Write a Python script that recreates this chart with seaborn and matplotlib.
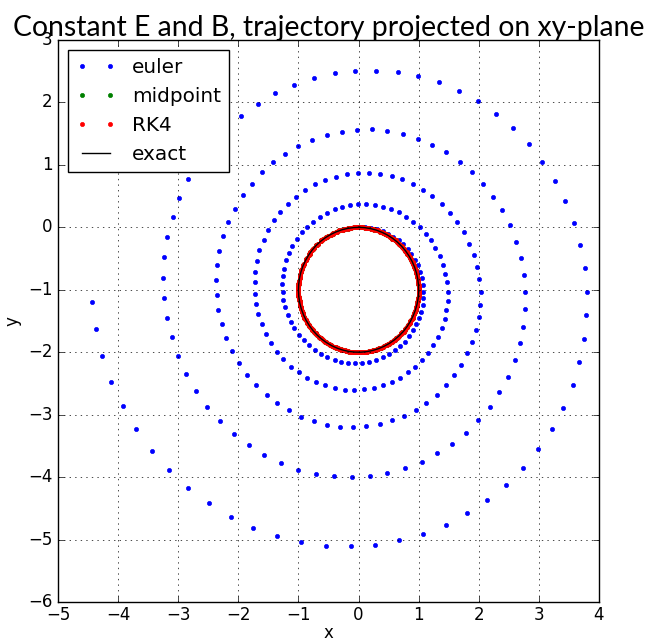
import matplotlib
matplotlib.use("Agg")
import matplotlib.pyplot as plt
import seaborn as sns

plt.style.use("classic")

# Euler steps (h = 0.1) of the charged particle, projected on the xy-plane
euler_x = [
    0.00, 0.10, 0.20, 0.30, 0.40, 0.49, 0.58, 0.67, 0.74, 0.82,
    0.88, 0.94, 0.99, 1.03, 1.06, 1.07, 1.08, 1.08, 1.07, 1.04,
    1.01, 0.96, 0.91, 0.84, 0.77, 0.69, 0.60, 0.50, 0.40, 0.29,
    0.18, 0.06, -0.06, -0.17, -0.29, -0.40, -0.52, -0.62, -0.73, -0.82,
    -0.91, -0.99, -1.07, -1.13, -1.18, -1.22, -1.25, -1.26, -1.27, -1.26,
    -1.24, -1.20, -1.15, -1.10, -1.03, -0.94, -0.85, -0.75, -0.64, -0.53,
    -0.40, -0.27, -0.14, -0.01, 0.13, 0.27, 0.40, 0.54, 0.67, 0.79,
    0.91, 1.02, 1.12, 1.20, 1.28, 1.35, 1.40, 1.44, 1.47, 1.48,
    1.48, 1.46, 1.43, 1.38, 1.32, 1.24, 1.16, 1.06, 0.94, 0.82,
    0.69, 0.55, 0.40, 0.25, 0.09, -0.07, -0.23, -0.39, -0.55, -0.70,
    -0.85, -0.99, -1.12, -1.25, -1.36, -1.46, -1.54, -1.61, -1.67, -1.71,
    -1.73, -1.73, -1.72, -1.69, -1.65, -1.58, -1.50, -1.41, -1.30, -1.17,
    -1.04, -0.89, -0.73, -0.56, -0.38, -0.20, -0.01, 0.17, 0.36, 0.55,
    0.73, 0.90, 1.07, 1.23, 1.38, 1.52, 1.64, 1.75, 1.84, 1.92,
    1.97, 2.01, 2.03, 2.02, 2.00, 1.96, 1.89, 1.81, 1.71, 1.59,
    1.45, 1.30, 1.13, 0.95, 0.76, 0.55, 0.35, 0.13, -0.09, -0.31,
    -0.53, -0.74, -0.95, -1.15, -1.35, -1.53, -1.70, -1.85, -1.99, -2.10,
    -2.20, -2.28, -2.33, -2.36, -2.37, -2.36, -2.32, -2.26, -2.17, -2.06,
    -1.93, -1.78, -1.61, -1.42, -1.22, -1.00, -0.77, -0.53, -0.28, -0.03,
    0.23, 0.48, 0.74, 0.99, 1.23, 1.46, 1.68, 1.89, 2.07, 2.24,
    2.39, 2.52, 2.62, 2.70, 2.75, 2.77, 2.77, 2.74, 2.68, 2.60,
    2.48, 2.34, 2.18, 1.99, 1.78, 1.55, 1.31, 1.05, 0.77, 0.48,
    0.19, -0.11, -0.41, -0.71, -1.00, -1.29, -1.57, -1.83, -2.08, -2.31,
    -2.52, -2.71, -2.87, -3.01, -3.11, -3.19, -3.24, -3.25, -3.23, -3.18,
    -3.09, -2.98, -2.83, -2.65, -2.45, -2.22, -1.96, -1.68, -1.39, -1.07,
    -0.74, -0.40, -0.06, 0.29, 0.65, 0.99, 1.34, 1.67, 1.99, 2.29,
    2.57, 2.83, 3.06, 3.27, 3.44, 3.58, 3.69, 3.76, 3.80, 3.79,
    3.75, 3.67, 3.56, 3.40, 3.22, 2.99, 2.74, 2.45, 2.14, 1.80,
    1.45, 1.07, 0.68, 0.28, -0.13, -0.54, -0.95, -1.36, -1.75, -2.13,
    -2.49, -2.84, -3.15, -3.44, -3.70, -3.92, -4.11, -4.26, -4.36, -4.43,
]
euler_y = [
    0.00, 0.00, -0.01, -0.03, -0.06, -0.10, -0.15, -0.21, -0.27, -0.35,
    -0.43, -0.52, -0.61, -0.71, -0.81, -0.92, -1.03, -1.13, -1.24, -1.35,
    -1.45, -1.55, -1.65, -1.74, -1.83, -1.90, -1.97, -2.03, -2.08, -2.12,
    -2.15, -2.17, -2.17, -2.17, -2.15, -2.12, -2.08, -2.03, -1.96, -1.89,
    -1.81, -1.72, -1.62, -1.51, -1.40, -1.28, -1.16, -1.04, -0.91, -0.78,
    -0.66, -0.53, -0.41, -0.30, -0.19, -0.08, 0.01, 0.09, 0.17, 0.23,
    0.29, 0.33, 0.35, 0.37, 0.37, 0.36, 0.33, 0.29, 0.24, 0.17,
    0.09, 0.00, -0.10, -0.21, -0.33, -0.46, -0.60, -0.74, -0.88, -1.03,
    -1.18, -1.33, -1.47, -1.61, -1.75, -1.88, -2.01, -2.13, -2.23, -2.32,
    -2.41, -2.48, -2.53, -2.57, -2.59, -2.60, -2.60, -2.57, -2.53, -2.48,
    -2.41, -2.32, -2.23, -2.11, -1.99, -1.85, -1.71, -1.55, -1.39, -1.23,
    -1.06, -0.88, -0.71, -0.54, -0.37, -0.20, -0.04, 0.11, 0.25, 0.38,
    0.49, 0.60, 0.69, 0.76, 0.81, 0.85, 0.87, 0.87, 0.86, 0.82,
    0.77, 0.69, 0.60, 0.50, 0.37, 0.23, 0.08, -0.08, -0.26, -0.44,
    -0.63, -0.83, -1.03, -1.24, -1.44, -1.64, -1.83, -2.02, -2.20, -2.37,
    -2.53, -2.68, -2.81, -2.92, -3.02, -3.09, -3.15, -3.18, -3.19, -3.19,
    -3.16, -3.10, -3.03, -2.93, -2.82, -2.68, -2.53, -2.36, -2.18, -1.98,
    -1.77, -1.55, -1.32, -1.08, -0.85, -0.61, -0.38, -0.14, 0.08, 0.30,
    0.51, 0.70, 0.88, 1.04, 1.18, 1.30, 1.40, 1.48, 1.53, 1.56,
    1.57, 1.54, 1.49, 1.42, 1.32, 1.20, 1.05, 0.89, 0.70, 0.49,
    0.27, 0.03, -0.23, -0.49, -0.76, -1.03, -1.31, -1.59, -1.86, -2.13,
    -2.39, -2.64, -2.87, -3.09, -3.29, -3.47, -3.62, -3.75, -3.86, -3.94,
    -3.98, -4.00, -3.99, -3.95, -3.88, -3.78, -3.65, -3.49, -3.31, -3.10,
    -2.87, -2.62, -2.35, -2.06, -1.76, -1.45, -1.13, -0.81, -0.48, -0.16,
    0.16, 0.47, 0.77, 1.05, 1.31, 1.56, 1.78, 1.98, 2.15, 2.28,
    2.39, 2.47, 2.51, 2.51, 2.48, 2.42, 2.32, 2.18, 2.02, 1.82,
    1.59, 1.33, 1.05, 0.74, 0.42, 0.07, -0.28, -0.65, -1.03, -1.41,
    -1.79, -2.16, -2.53, -2.89, -3.23, -3.55, -3.85, -4.12, -4.37, -4.58,
    -4.76, -4.91, -5.01, -5.08, -5.11, -5.10, -5.04, -4.95, -4.81, -4.64,
    -4.42, -4.17, -3.89, -3.58, -3.23, -2.86, -2.47, -2.06, -1.63, -1.20,
]

# RK4 steps (h = 0.1): five passes over the unit gyration circle
rk4_x = [
    # pass 1
    0.00, 0.10, 0.20, 0.30, 0.39, 0.48, 0.56, 0.64, 0.72, 0.78,
    0.84, 0.89, 0.93, 0.96, 0.99, 1.00, 1.00, 0.99, 0.97, 0.95,
    0.91, 0.86, 0.81, 0.75, 0.68, 0.60, 0.52, 0.43, 0.34, 0.24,
    0.14, 0.04, -0.06, -0.16, -0.26, -0.35, -0.44, -0.53, -0.61, -0.69,
    -0.76, -0.82, -0.87, -0.92, -0.95, -0.98, -0.99, -1.00, -1.00, -0.98,
    -0.96, -0.93, -0.88, -0.83, -0.77, -0.71, -0.63, -0.55, -0.46, -0.37,
    -0.28, -0.18, -0.08,
    # pass 2
    0.02, 0.12, 0.22, 0.31, 0.40, 0.49, 0.58, 0.66, 0.73, 0.79,
    0.85, 0.90, 0.94, 0.97, 0.99, 1.00, 1.00, 0.99, 0.97, 0.94,
    0.90, 0.85, 0.80, 0.73, 0.66, 0.59, 0.50, 0.41, 0.32, 0.22,
    0.12, 0.02, -0.08, -0.17, -0.27, -0.37, -0.46, -0.54, -0.63, -0.70,
    -0.77, -0.83, -0.88, -0.92, -0.96, -0.98, -1.00, -1.00, -0.99, -0.98,
    -0.95, -0.92, -0.88, -0.82, -0.76, -0.69, -0.62, -0.54, -0.45, -0.36,
    -0.26, -0.17, -0.07,
    # pass 3
    0.03, 0.13, 0.23, 0.33, 0.42, 0.51, 0.59, 0.67, 0.74, 0.80,
    0.86, 0.91, 0.94, 0.97, 0.99, 1.00, 1.00, 0.99, 0.97, 0.94,
    0.90, 0.85, 0.79, 0.72, 0.65, 0.57, 0.49, 0.40, 0.30, 0.21,
    0.11, 0.01, -0.09, -0.19, -0.29, -0.38, -0.47, -0.56, -0.64, -0.71,
    -0.78, -0.84, -0.89, -0.93, -0.96, -0.98, -1.00, -1.00, -0.99, -0.98,
    -0.95, -0.91, -0.87, -0.81, -0.75, -0.68, -0.61, -0.52, -0.43, -0.34,
    -0.25, -0.15, -0.05,
    # pass 4
    0.05, 0.15, 0.25, 0.34, 0.44, 0.52, 0.61, 0.68, 0.75, 0.81,
    0.87, 0.91, 0.95, 0.98, 0.99, 1.00, 1.00, 0.99, 0.96, 0.93,
    0.89, 0.84, 0.78, 0.71, 0.64, 0.56, 0.47, 0.38, 0.29, 0.19,
    0.09, -0.01, -0.11, -0.21, -0.30, -0.40, -0.49, -0.57, -0.65, -0.72,
    -0.79, -0.85, -0.90, -0.94, -0.97, -0.99, -1.00, -1.00, -0.99, -0.97,
    -0.94, -0.91, -0.86, -0.80, -0.74, -0.67, -0.59, -0.51, -0.42, -0.33,
    -0.23, -0.13, -0.03,
    # pass 5
    0.07, 0.17, 0.26, 0.36, 0.45, 0.54, 0.62, 0.69, 0.76, 0.82,
    0.88, 0.92, 0.95, 0.98, 0.99, 1.00, 1.00, 0.98, 0.96, 0.92,
    0.88, 0.83, 0.77, 0.70, 0.62, 0.54, 0.46, 0.37, 0.27, 0.17,
    0.07, -0.03, -0.13, -0.22, -0.32, -0.41, -0.50, -0.59, -0.66, -0.74,
    -0.80, -0.86, -0.90, -0.94, -0.97, -0.99, -1.00, -1.00,
]
rk4_y = [
    # pass 1
    0.00, -0.01, -0.02, -0.04, -0.08, -0.12, -0.18, -0.24, -0.30, -0.38,
    -0.46, -0.55, -0.64, -0.73, -0.83, -0.93, -1.03, -1.13, -1.23, -1.32,
    -1.42, -1.50, -1.59, -1.67, -1.74, -1.80, -1.86, -1.90, -1.94, -1.97,
    -1.99, -2.00, -2.00, -1.99, -1.97, -1.94, -1.90, -1.85, -1.79, -1.73,
    -1.65, -1.58, -1.49, -1.40, -1.31, -1.21, -1.11, -1.01, -0.91, -0.81,
    -0.72, -0.62, -0.53, -0.45, -0.37, -0.29, -0.22, -0.17, -0.12, -0.07,
    -0.04, -0.02, -0.00,
    # pass 2
    0.00, -0.01, -0.02, -0.05, -0.09, -0.13, -0.18, -0.25, -0.32, -0.39,
    -0.47, -0.56, -0.65, -0.75, -0.85, -0.95, -1.05, -1.15, -1.24, -1.34,
    -1.43, -1.52, -1.60, -1.68, -1.75, -1.81, -1.87, -1.91, -1.95, -1.98,
    -1.99, -2.00, -2.00, -1.98, -1.96, -1.93, -1.89, -1.84, -1.78, -1.71,
    -1.64, -1.56, -1.48, -1.39, -1.29, -1.19, -1.10, -1.00, -0.90, -0.80,
    -0.70, -0.61, -0.52, -0.43, -0.35, -0.28, -0.21, -0.16, -0.11, -0.07,
    -0.04, -0.01, -0.00,
    # pass 3
    0.00, -0.01, -0.03, -0.05, -0.09, -0.14, -0.19, -0.26, -0.33, -0.40,
    -0.49, -0.58, -0.67, -0.76, -0.86, -0.96, -1.06, -1.16, -1.26, -1.36,
    -1.45, -1.53, -1.62, -1.69, -1.76, -1.82, -1.87, -1.92, -1.95, -1.98,
    -1.99, -2.00, -2.00, -1.98, -1.96, -1.92, -1.88, -1.83, -1.77, -1.70,
    -1.63, -1.55, -1.46, -1.37, -1.28, -1.18, -1.08, -0.98, -0.88, -0.78,
    -0.68, -0.59, -0.50, -0.42, -0.34, -0.27, -0.20, -0.15, -0.10, -0.06,
    -0.03, -0.01, -0.00,
    # pass 4
    0.00, -0.01, -0.03, -0.06, -0.10, -0.15, -0.20, -0.27, -0.34, -0.42,
    -0.50, -0.59, -0.68, -0.78, -0.88, -0.98, -1.08, -1.18, -1.28, -1.37,
    -1.46, -1.55, -1.63, -1.70, -1.77, -1.83, -1.88, -1.93, -1.96, -1.98,
    -2.00, -2.00, -2.00, -1.98, -1.95, -1.92, -1.87, -1.82, -1.76, -1.69,
    -1.62, -1.53, -1.45, -1.35, -1.26, -1.16, -1.06, -0.96, -0.86, -0.76,
    -0.67, -0.58, -0.49, -0.40, -0.33, -0.26, -0.19, -0.14, -0.09, -0.05,
    -0.03, -0.01, 0.00,
    # pass 5
    -0.00, -0.01, -0.04, -0.07, -0.11, -0.16, -0.21, -0.28, -0.35, -0.43,
    -0.52, -0.61, -0.70, -0.80, -0.90, -1.00, -1.10, -1.20, -1.29, -1.39,
    -1.48, -1.56, -1.64, -1.71, -1.78, -1.84, -1.89, -1.93, -1.96, -1.98,
    -2.00, -2.00, -1.99, -1.97, -1.95, -1.91, -1.87, -1.81, -1.75, -1.68,
    -1.60, -1.52, -1.43, -1.34, -1.24, -1.14, -1.05, -0.95,
]

# Midpoint steps coincide with the RK4 ones to plotting precision
midpoint_x = rk4_x
midpoint_y = rk4_y

# Exact gyration orbit in the xy-plane, sampled every 0.1 time units (one lap)
exact_x = [
    0.000, 0.100, 0.199, 0.296, 0.389, 0.479, 0.565, 0.644, 0.717, 0.783,
    0.841, 0.891, 0.932, 0.964, 0.985, 0.997, 1.000, 0.992, 0.974, 0.946,
    0.909, 0.863, 0.808, 0.746, 0.675, 0.598, 0.516, 0.427, 0.335, 0.239,
    0.141, 0.042, -0.058, -0.158, -0.256, -0.351, -0.443, -0.530, -0.612, -0.688,
    -0.757, -0.818, -0.872, -0.916, -0.952, -0.978, -0.994, -1.000, -0.996, -0.982,
    -0.959, -0.926, -0.883, -0.832, -0.773, -0.706, -0.631, -0.551, -0.465, -0.374,
    -0.279, -0.182, -0.083, 0.017,
]
exact_y = [
    0.000, -0.005, -0.020, -0.045, -0.079, -0.122, -0.175, -0.235, -0.303, -0.378,
    -0.460, -0.546, -0.638, -0.733, -0.830, -0.929, -1.029, -1.129, -1.227, -1.323,
    -1.416, -1.505, -1.589, -1.666, -1.737, -1.801, -1.857, -1.904, -1.942, -1.971,
    -1.990, -1.999, -1.998, -1.988, -1.967, -1.937, -1.897, -1.848, -1.791, -1.726,
    -1.654, -1.575, -1.490, -1.401, -1.307, -1.211, -1.112, -1.012, -0.913, -0.814,
    -0.716, -0.622, -0.532, -0.446, -0.365, -0.291, -0.224, -0.165, -0.115, -0.073,
    -0.040, -0.017, -0.004, -0.000,
]

x_ticks = [-5, -4, -3, -2, -1, 0, 1, 2, 3, 4]
y_ticks = [-6, -5, -4, -3, -2, -1, 0, 1, 2, 3]

W, H = 650, 641
fig = plt.figure(figsize=(W / 100, H / 100), dpi=100, facecolor="white")
ax = fig.add_axes([58 / W, 39 / H, 541 / W, 562 / H])

dot_kw = dict(marker=".", linestyle="None", markersize=6,
              markeredgewidth=0.5, sort=False, estimator=None, ax=ax)

sns.lineplot(x=euler_x, y=euler_y, color="b", markeredgecolor="b",
             label="euler", **dot_kw)
sns.lineplot(x=midpoint_x, y=midpoint_y, color="g", markeredgecolor="g",
             label="midpoint", **dot_kw)
sns.lineplot(x=rk4_x, y=rk4_y, color="r", markeredgecolor="r",
             label="RK4", **dot_kw)
sns.lineplot(x=exact_x, y=exact_y, color="k", linewidth=1.0,
             sort=False, estimator=None, label="exact", ax=ax)

ax.set_xlim(-5, 4)
ax.set_ylim(-6, 3)
ax.set_xticks(x_ticks)
ax.set_yticks(y_ticks)
ax.tick_params(axis="x", pad=3)
ax.grid(True)
ax.set_xlabel("x", labelpad=0)
ax.set_ylabel("y")

ax.legend(loc="upper left", numpoints=2)

title = ax.set_title("Constant E and B, trajectory projected on xy-plane",
                     fontfamily="Lato", fontsize=22, pad=3)
fig.canvas.draw()
width = title.get_window_extent().width
title.set_fontsize(22 * 628 / width)

fig.savefig("out.png", dpi=100, facecolor="white")
